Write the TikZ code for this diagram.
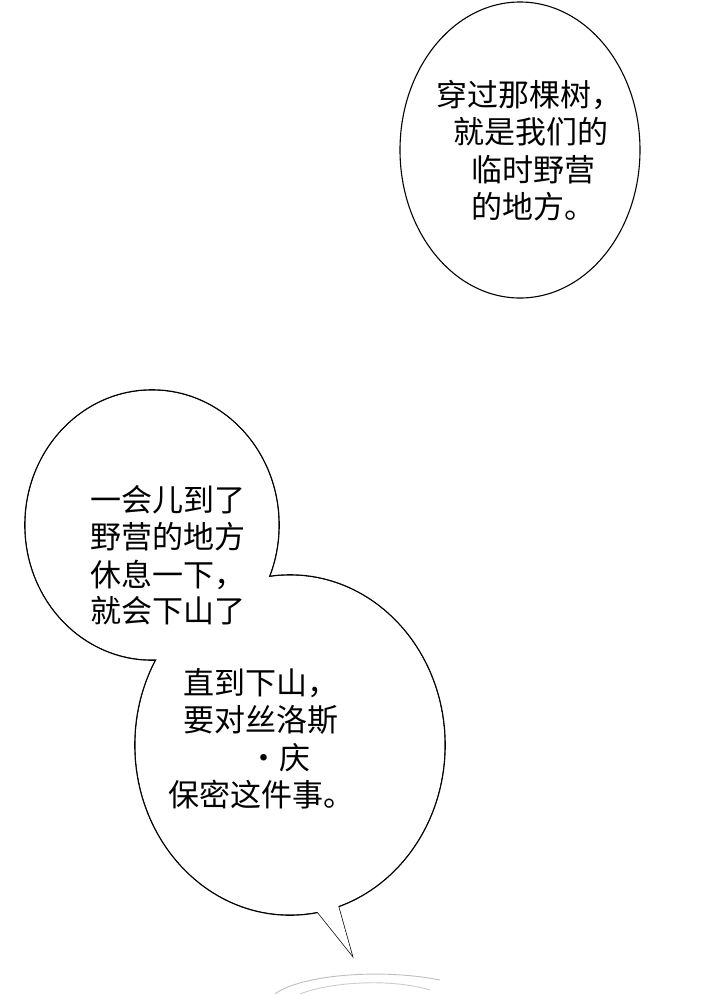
\documentclass[tikz,border=0pt]{standalone}
\usepackage{fontspec}
\usetikzlibrary{shapes.geometric}
\newfontfamily\cjk{Noto Sans CJK SC}
\begin{document}
\begin{tikzpicture}[x=1pt,y=-1pt,
  txt/.style={anchor=west,inner sep=0pt,font=\cjk\fontsize{31}{36}\selectfont},
  bub/.style={draw=black,line width=1.1pt}]
\useasboundingbox[fill=white] (0,0) rectangle (720,994);
% bubble 1
\node[bub,ellipse,minimum width=240pt,minimum height=296pt] (b1) at (520,150) {};
\node[txt] (t1) at (436,95) {穿过那棵树，};
\node[txt] (t2) at (453,132) {就是我们的};
\node[txt] (t3) at (471,170) {临时野营};
\node[txt] (t4) at (471,207) {的地方。};
% bubble 2 (merged)
\coordinate (ta) at (312,905);
\coordinate (tb) at (336,898);
\coordinate (tip) at (352,955);
\draw[bub,line width=1.4pt,fill=white] (ta) -- (tip) -- (tb);
\draw[bub,line width=1.6pt] (152,525) ellipse[x radius=127,y radius=135];
\draw[bub,line width=1.6pt] (290,745) ellipse[x radius=155,y radius=170];
\fill[white] (152,525) ellipse[x radius=126.4,y radius=134.4];
\fill[white] (290,745) ellipse[x radius=154.4,y radius=169.4];
\fill[white] (ta) -- (tip) -- (tb) -- cycle;
\node[txt] (u1) at (90,500) {一会儿到了};
\node[txt] (u2) at (90,537) {野营的地方};
\node[txt] (u3) at (90,575) {休息一下，};
\node[txt] (u4) at (90,611) {就会下山了};
\node[txt] (v1) at (183,683) {直到下山，};
\node[txt] (v2) at (183,720) {要对丝洛斯};
\node[txt] (v3) at (248,758) {·庆};
\node[txt] (v4) at (168,795) {保密这件事。};
% faint hair at bottom
\draw[gray!50,line width=0.9pt] (275,994) .. controls (300,975) and (380,968) .. (440,980);
\draw[gray!40,line width=0.9pt] (300,994) .. controls (330,982) and (390,978) .. (430,990);
\end{tikzpicture}
\end{document}
